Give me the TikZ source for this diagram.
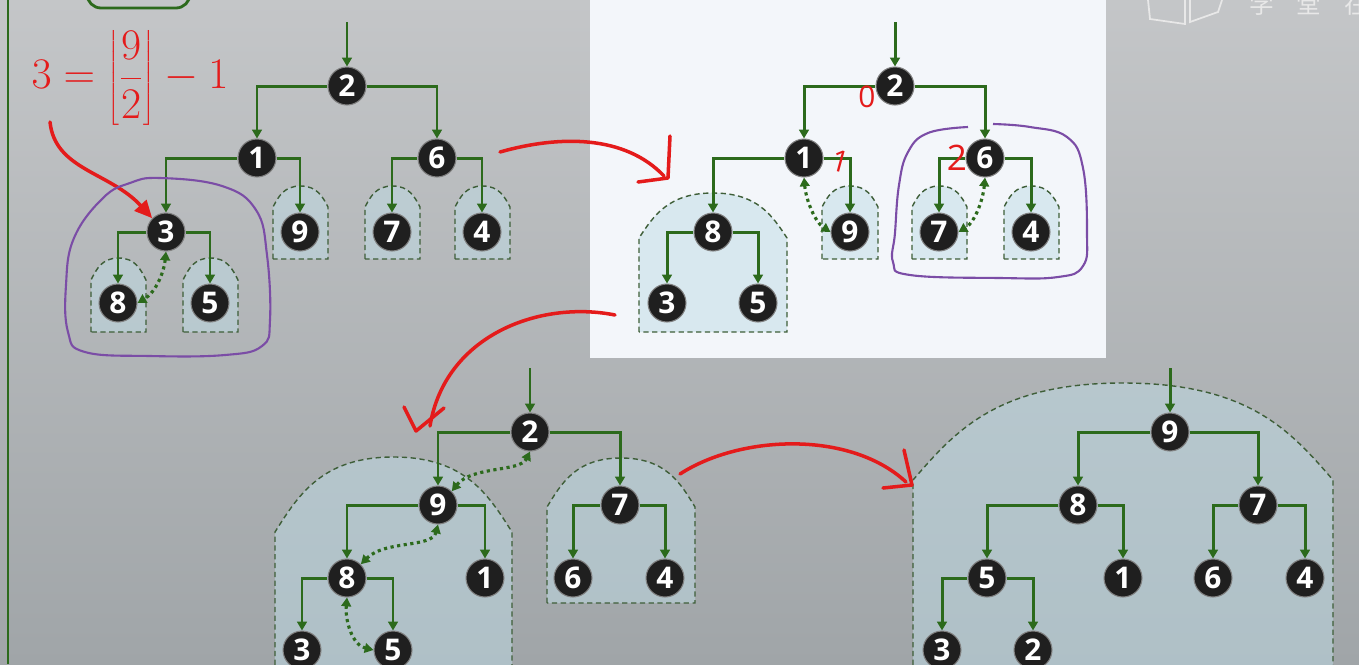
\documentclass[tikz,border=0pt]{standalone}
\usepackage{fontspec}
\setsansfont{Open Sans}
\newfontfamily\cjkfont{Noto Sans CJK SC}
\usetikzlibrary{arrows.meta}
\definecolor{slatetop}{HTML}{C4C6C8}
\definecolor{slatebot}{HTML}{A0A5A8}
\definecolor{panel}{HTML}{F3F6FA}
\definecolor{treegreen}{HTML}{2C6A1C}
\definecolor{boxgreen}{HTML}{3E5E38}
\definecolor{boxfill}{HTML}{BFDCE6}
\definecolor{penred}{HTML}{E41B1B}
\definecolor{loopviolet}{HTML}{7B4DA6}

% dashed sub-heap outline: left, right, shoulder, peak, bottom
\newcommand{\subheap}[5]{%
  \pgfmathsetmacro{\shmid}{(#1+#2)/2}
  \pgfmathsetmacro{\shwid}{#2-#1}
  \pgfmathsetmacro{\shy}{#4+0.5*(#3-#4)}
  \filldraw[subheap] (#1,#5) -- (#1,#3)
    .. controls ({#1+0.1*\shwid},\shy) and ({\shmid-0.3*\shwid},#4) .. (\shmid,#4)
    .. controls ({\shmid+0.3*\shwid},#4) and ({#2-0.1*\shwid},\shy) .. (#2,#3)
    -- (#2,#5) -- cycle;}

\begin{document}
\begin{tikzpicture}[x=0.02cm, y=-0.02cm,
  heap/.style={circle, fill=black!88, draw=black!50, line width=0.6pt,
    minimum size=0.76cm, inner sep=0pt, text=white,
    font=\sffamily\bfseries\fontsize{17}{17}\selectfont},
  link/.style={treegreen, line width=1.7pt, -{Triangle[length=5pt,width=5.5pt]}},
  swap/.style={treegreen, line width=1.8pt, dotted,
    {Triangle[length=5pt,width=5.5pt]}-{Triangle[length=5pt,width=5.5pt]}},
  subheap/.style={boxgreen, dash pattern=on 3pt off 2pt, line width=0.8pt,
    fill=boxfill, fill opacity=0.5},
  pen/.style={penred, line width=2pt, line cap=round, line join=round},
  loop/.style={loopviolet, line width=1.2pt}]
  \useasboundingbox (0,0) rectangle (1359,664);
  % backdrop
  \fill[top color=slatetop, bottom color=slatebot] (0,0) rectangle (1359,664);
  \fill[panel] (590,0) rectangle (1106,358);
  \draw[treegreen, line width=1.6pt] (8,0) -- (8,664);
  \draw[treegreen, line width=1.6pt, rounded corners=8pt] (87,-30) rectangle (190,8);
  % watermark
  \draw[white!82!gray, line width=1pt] (1148,0) -- (1150,19) -- (1185,24) -- (1185,0)
    (1190,0) -- (1190,22) -- (1218,12) -- (1222,0);
  \node[text=white!82!gray, font=\cjkfont\fontsize{14}{14}\selectfont, anchor=base west]
    (mark) at (1243,13) {学\hspace{13pt}堂\hspace{13pt}在\hspace{13pt}线};

  % sub-heaps
  \subheap{273}{328}{207}{186}{259}
  \subheap{365}{420}{207}{186}{259}
  \subheap{455}{510}{207}{186}{259}
  \subheap{91}{146}{280}{258}{332}
  \subheap{183}{238}{280}{258}{332}
  \subheap{639}{787}{238}{193}{332}
  \subheap{822}{878}{207}{186}{259}
  \subheap{912}{967}{207}{186}{259}
  \subheap{1004}{1059}{207}{186}{259}
  \subheap{275}{512}{532}{457}{700}
  \subheap{547}{695}{507}{458}{603}
  \subheap{913}{1333}{480}{383}{700}

  % heap a
  \foreach \n/\x/\y in {2/347/86, 1/257/158, 6/437/158, 3/166/232, 9/300/232,
      7/392/232, 4/482/232, 8/118/303, 5/210/303}
    \node[heap] (a\n) at (\x,\y) {\n};
  \foreach \p/\c in {2/1, 2/6, 1/3, 1/9, 6/7, 6/4, 3/8, 3/5}
    \draw[link] (a\p) -| (a\c);
  \coordinate (a0) at (347,22);
  \draw[link] (a0) -- (a2);
  \draw[swap] (a3.south) .. controls (164,272) and (156,292) .. (a8.east);

  % heap b
  \foreach \n/\x/\y in {2/895/86, 1/804/158, 6/985/158, 8/713/232, 9/850/232,
      7/939/232, 4/1031/232, 3/667/303, 5/758/303}
    \node[heap] (b\n) at (\x,\y) {\n};
  \foreach \p/\c in {2/1, 2/6, 1/8, 1/9, 6/7, 6/4, 8/3, 8/5}
    \draw[link] (b\p) -| (b\c);
  \coordinate (b0) at (895,22);
  \draw[link] (b0) -- (b2);
  \draw[swap] (b1.south) .. controls (806,200) and (815,222) .. (b9.west);
  \draw[swap] (b6.south) .. controls (983,200) and (975,222) .. (b7.east);

  % heap c
  \foreach \n/\x/\y in {2/530/432, 9/438/505, 7/620/505, 8/347/578, 1/485/578,
      6/573/578, 4/665/578, 3/302/650, 5/393/650}
    \node[heap] (c\n) at (\x,\y) {\n};
  \foreach \p/\c in {2/9, 2/7, 9/8, 9/1, 7/6, 7/4, 8/3, 8/5}
    \draw[link] (c\p) -| (c\c);
  \coordinate (c0) at (530,368);
  \draw[link] (c0) -- (c2);
  \draw[swap] (c9.north east) .. controls (472,466) and (520,472) .. (c2.south);
  \draw[swap] (c8.north east) .. controls (385,540) and (432,548) .. (c9.south);
  \draw[swap] (c8.south) .. controls (345,620) and (352,645) .. (c5.west);

  % heap d
  \foreach \n/\x/\y in {9/1170/432, 8/1078/505, 7/1258/505, 5/987/578, 1/1123/578,
      6/1213/578, 4/1305/578, 3/942/650, 2/1033/650}
    \node[heap] (d\n) at (\x,\y) {\n};
  \foreach \p/\c in {9/8, 9/7, 8/5, 8/1, 7/6, 7/4, 5/3, 5/2}
    \draw[link] (d\p) -| (d\c);
  \coordinate (d0) at (1170,368);
  \draw[link] (d0) -- (d9);

  % hand notes
  \node[text=penred, font=\fontsize{26}{26}\selectfont] (formula) at (130,78)
    {$\displaystyle 3=\left\lfloor\frac{9}{2}\right\rfloor-1$};
  \coordinate (hint) at (50,122);
  \draw[pen, -{Triangle[length=10pt,width=9pt]}] (hint) .. controls (55,170) and (110,172) .. (a3.north west);
  \draw[loop] plot[smooth cycle, tension=0.7] coordinates {(160,178) (222,186) (256,210)
    (267,255) (270,320) (262,346) (225,355) (150,356) (85,352) (68,332) (66,285)
    (74,238) (103,198) (130,183)};
  \draw[loop] plot[smooth, tension=0.7] coordinates {(968,127) (928,133) (908,152)
    (899,185) (895,233) (893,262) (910,275) (1000,278) (1058,277) (1083,266)
    (1087,233) (1083,168) (1067,137) (1030,127) (993,124)};
  \node[text=penred, font=\sffamily\fontsize{17}{17}\selectfont] (mark0) at (867,97) {0};
  \node[text=penred, font=\sffamily\fontsize{17}{17}\selectfont, rotate=-15] (mark1) at (840,161) {1};
  \node[text=penred, font=\sffamily\fontsize{20}{20}\selectfont] (mark2) at (957,158) {2};
  \draw[pen] (500,152) .. controls (560,135) and (625,135) .. (664,176);
  \draw[pen] (670,136) -- (668,178) -- (638,182);
  \draw[pen] (615,315) .. controls (540,300) and (445,335) .. (430,426);
  \draw[pen] (404,407) -- (416,431) -- (444,408);
  \draw[pen] (680,474) .. controls (740,435) and (850,430) .. (906,482);
  \draw[pen] (904,450) -- (912,485) -- (883,488);
\end{tikzpicture}
\end{document}
